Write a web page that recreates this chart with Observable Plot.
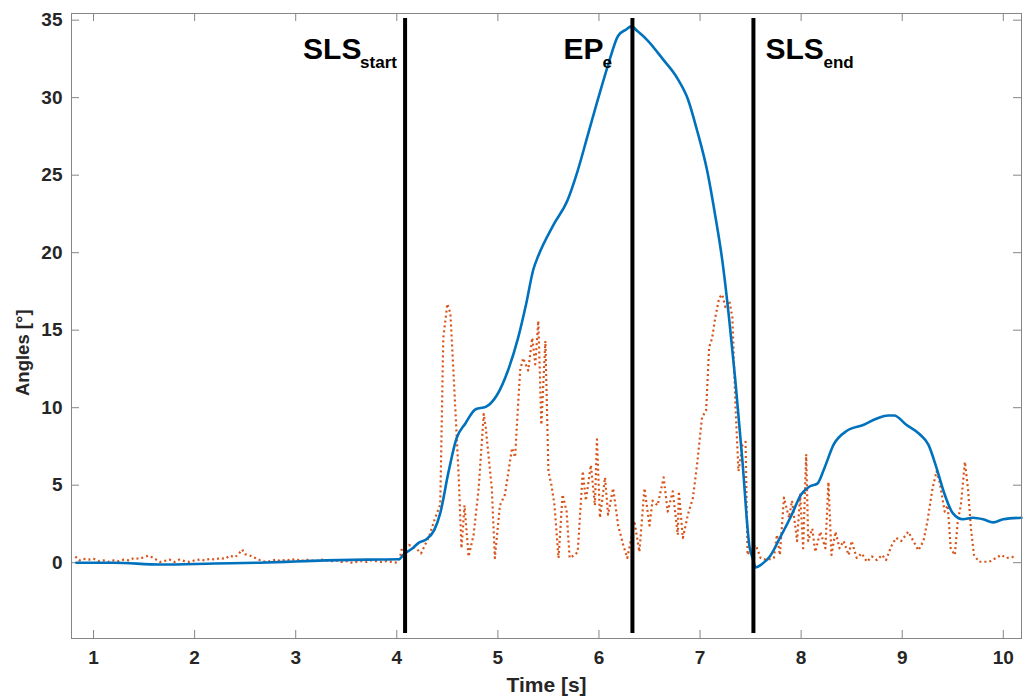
<!DOCTYPE html>
<html>
<head>
<meta charset="utf-8">
<script src="https://cdn.jsdelivr.net/npm/d3@7"></script>
<script src="https://cdn.jsdelivr.net/npm/@observablehq/plot@0.6"></script>
<style>
  html, body { margin: 0; padding: 0; background: #fff; }
  #chart { width: 1026px; height: 700px; }
</style>
</head>
<body>
<div id="chart"></div>
<script>
// ---- Data ----
const xTicks = [1, 2, 3, 4, 5, 6, 7, 8, 9, 10];
const yTicks = [0, 5, 10, 15, 20, 25, 30, 35];
const xLabel = "Time [s]";
const yLabel = "Angles [°]";

// Blue (solid) series
const blueT = [0.83, 1.2, 1.66, 2.2, 2.64, 3.0, 3.3, 3.7, 4.02, 4.07, 4.15, 4.22, 4.29, 4.37, 4.43, 4.51, 4.59, 4.68, 4.78, 4.88, 4.99, 5.10, 5.20, 5.28, 5.35, 5.40, 5.55, 5.69, 5.79, 5.89, 5.99, 6.09, 6.19, 6.27, 6.32, 6.38, 6.48, 6.63, 6.78, 6.88, 6.97, 7.07, 7.15, 7.22, 7.29, 7.35, 7.42, 7.49, 7.52, 7.55, 7.61, 7.69, 7.79, 7.90, 8.00, 8.08, 8.16, 8.23, 8.32, 8.45, 8.62, 8.75, 8.86, 8.92, 9.04, 9.17, 9.26, 9.34, 9.42, 9.50, 9.60, 9.70, 9.80, 9.90, 10.0, 10.18];
const blueV = [0.0, 0.0, -0.12, -0.05, 0.0, 0.08, 0.15, 0.2, 0.22, 0.55, 0.9, 1.3, 1.5, 2.1, 3.2, 5.8, 8.0, 9.0, 9.9, 10.05, 10.8, 12.4, 14.5, 16.7, 18.9, 19.8, 21.8, 23.4, 25.3, 27.6, 29.9, 32.1, 34.0, 34.4, 34.6, 34.3, 33.7, 32.5, 31.2, 29.9, 27.9, 25.3, 22.4, 19.5, 15.6, 11.7, 6.5, 1.0, 0.3, -0.3, -0.1, 0.4, 1.6, 3.0, 4.4, 4.9, 5.1, 6.1, 7.6, 8.5, 8.9, 9.3, 9.5, 9.5, 8.9, 8.3, 7.6, 6.1, 4.4, 3.2, 2.8, 2.9, 2.8, 2.6, 2.8, 2.9];

// Orange (dotted) series
const orangeT = [0.82, 0.86, 0.9, 0.95, 1.0, 1.05, 1.1, 1.15, 1.2, 1.25, 1.3, 1.35, 1.4, 1.45, 1.5, 1.54, 1.58, 1.62, 1.66, 1.7, 1.75, 1.8, 1.85, 1.9, 1.95, 2.0, 2.05, 2.1, 2.15, 2.2, 2.25, 2.3, 2.35, 2.4, 2.44, 2.47, 2.5, 2.55, 2.6, 2.65, 2.7, 2.75, 2.8, 2.85, 2.9, 2.95, 3.0, 3.05, 3.1, 3.15, 3.2, 3.25, 3.3, 3.35, 3.4, 3.45, 3.5, 3.55, 3.6, 3.65, 3.7, 3.75, 3.8, 3.85, 3.9, 3.95, 4.0, 4.03, 4.05,
  4.12, 4.19, 4.24, 4.32, 4.38, 4.43, 4.46, 4.50, 4.53, 4.56, 4.61, 4.64, 4.67, 4.71, 4.76, 4.81, 4.86, 4.88, 4.94, 4.97, 5.02, 5.07, 5.14, 5.17, 5.22, 5.25, 5.30, 5.34, 5.37, 5.40, 5.43, 5.47, 5.50, 5.53, 5.56, 5.60, 5.64, 5.68, 5.71, 5.76, 5.79, 5.84, 5.87, 5.92, 5.96, 5.98, 6.01, 6.06, 6.09, 6.14, 6.19, 6.24, 6.28, 6.32, 6.35, 6.40, 6.45, 6.50, 6.53, 6.58, 6.64, 6.68, 6.73, 6.78, 6.79, 6.83, 6.88, 6.93, 6.97, 7.02, 7.06, 7.09, 7.12, 7.15, 7.19, 7.22, 7.25, 7.29, 7.32, 7.35, 7.38, 7.42, 7.45, 7.47, 7.50, 7.55, 7.60, 7.66, 7.73, 7.76, 7.79, 7.83, 7.88, 7.91, 7.96, 7.99, 8.02, 8.05, 8.07, 8.11, 8.14, 8.19, 8.24, 8.27, 8.30, 8.34, 8.38, 8.42, 8.47, 8.50, 8.55, 8.60, 8.65, 8.70, 8.75, 8.80, 8.84, 8.89, 8.94, 8.99, 9.06, 9.11, 9.16, 9.21, 9.25, 9.30, 9.34, 9.37, 9.42, 9.45, 9.48, 9.52, 9.55, 9.58, 9.62, 9.65, 9.68, 9.71, 9.76, 9.86, 9.98, 10.03, 10.12];
const orangeV = [0.4, 0.15, 0.25, 0.2, 0.25, 0.1, 0.15, 0.05, 0.15, 0.1, 0.2, 0.15, 0.3, 0.25, 0.35, 0.45, 0.35, 0.2, 0.05, 0.1, 0.2, 0.05, 0.2, 0.1, 0.05, 0.15, 0.2, 0.15, 0.25, 0.2, 0.3, 0.25, 0.45, 0.35, 0.6, 0.85, 0.55, 0.45, 0.3, 0.15, 0.05, 0.1, 0.2, 0.1, 0.2, 0.15, 0.25, 0.1, 0.2, 0.15, 0.1, 0.2, 0.15, 0.1, 0.15, 0.05, 0.1, 0.0, 0.05, 0.1, 0.05, 0.15, 0.1, 0.05, 0.1, 0.05, 0.0, 0.3, 0.9,
  1.15, 0.93, 0.6, 1.7, 2.9, 3.75, 14.5, 16.7, 16.1, 12.4, 5.9, 0.93, 3.7, 0.4, 1.8, 4.8, 9.6, 8.7, 4.8, 0.3, 3.7, 4.4, 7.4, 6.8, 12.4, 13.2, 12.4, 14.5, 12.8, 15.6, 8.9, 14.3, 5.9, 5.0, 3.7, 0.3, 4.4, 3.3, 0.3, 0.5, 0.7, 5.9, 4.0, 6.3, 3.7, 7.95, 2.9, 5.5, 3.1, 4.8, 2.4, 1.15, 0.3, 1.6, 2.7, 0.7, 4.8, 2.4, 4.0, 3.7, 5.5, 3.3, 4.6, 1.8, 4.6, 1.6, 3.1, 4.2, 6.3, 9.4, 9.8, 13.9, 14.5, 15.8, 17.1, 17.3, 16.5, 16.9, 15.8, 10.2, 5.9, 7.6, 7.8, 0.5, 0.93, 1.15, 0.3, 0.17, 0.3, 1.8, 0.5, 4.2, 2.9, 4.0, 1.4, 4.4, 0.93, 7.0, 1.4, 2.2, 0.7, 2.0, 0.93, 5.2, 0.5, 2.0, 0.93, 1.4, 0.5, 1.4, 0.3, 0.6, 0.06, 0.4, 0.17, 0.5, 0.17, 1.04, 1.6, 1.4, 2.0, 1.4, 0.8, 1.4, 2.7, 4.8, 5.9, 5.2, 3.3, 3.7, 0.93, 0.5, 2.7, 3.7, 6.5, 4.8, 2.2, 0.5, 0.06, 0.06, 0.5, 0.3, 0.4];

// Event markers
const eventTimes = [4.082, 6.331, 7.528];
const eventNames = ["SLS", "EP", "SLS"];
const eventSubs = ["start", "e", "end"];

// ---- Build tables ----
const blue = blueT.map((t, i) => ({t, v: blueV[i]}));
const orange = orangeT.map((t, i) => ({t, v: orangeV[i]}));
const events = eventTimes.map((t, i) => ({t, name: eventNames[i], sub: eventSubs[i]}));

const W = 1026, H = 700;
const mT = 13, mB = 62, mL = 71, mR = 5;
const plotW = W - mL - mR, plotH = H - mT - mB;
const tickLen = 8;
const frameColor = "#868686";

// pixel offsets of annotation parts relative to their event line
const mainDx = [-102, -69, 12];
const subDx = [-45, -30, 70];

const annotationMarks = events.flatMap((e, i) => [
  Plot.text([e], {x: "t", text: "name", frameAnchor: "top", textAnchor: "start", lineAnchor: "bottom",
    dx: mainDx[i], dy: 45, fontSize: 30, fontWeight: "bold", fill: "black"}),
  Plot.text([e], {x: "t", text: "sub", frameAnchor: "top", textAnchor: "start", lineAnchor: "bottom",
    dx: subDx[i], dy: 54, fontSize: 17, fontWeight: "bold", fill: "black"})
]);

const chart = Plot.plot({
  width: W,
  height: H,
  marginTop: mT,
  marginBottom: mB,
  marginLeft: mL,
  marginRight: mR,
  style: {fontFamily: "'Liberation Sans', Arial, Helvetica, sans-serif", color: "#262626", background: "white"},
  x: {domain: [0.782, 10.18]},
  y: {domain: [-4.89, 35.43]},
  marks: [
    // inward ticks on all four sides
    Plot.ruleX(xTicks, {stroke: frameColor, insetTop: plotH - tickLen}),
    Plot.ruleX(xTicks, {stroke: frameColor, insetBottom: plotH - tickLen}),
    Plot.ruleY(yTicks, {stroke: frameColor, insetRight: plotW - tickLen}),
    Plot.ruleY(yTicks, {stroke: frameColor, insetLeft: plotW - tickLen}),
    Plot.axisX({ticks: xTicks, tickSize: 0, tickPadding: 12, fontSize: 19, fontWeight: "bold", label: null}),
    Plot.axisY({ticks: yTicks, tickSize: 0, tickPadding: 9, fontSize: 19, fontWeight: "bold", label: null}),
    // data
    Plot.line(orange, {x: "t", y: "v", stroke: "#D95319", strokeWidth: 2.2, strokeDasharray: "2,3", strokeLinecap: "butt"}),
    Plot.line(blue, {x: "t", y: "v", stroke: "#0072BD", strokeWidth: 2.6, curve: "monotone-x"}),
    // event lines
    Plot.ruleX(events, {x: "t", stroke: "black", strokeWidth: 4, insetTop: 5, insetBottom: 5}),
    ...annotationMarks,
    // axis titles
    Plot.text([xLabel], {frameAnchor: "bottom", dy: 53, text: d => d, fontSize: 21, fontWeight: "bold", fill: "#262626"}),
    Plot.text([yLabel], {frameAnchor: "left", dx: -48, dy: 70, rotate: -90, text: d => d, fontSize: 18.5, fontWeight: "bold", fill: "#262626"}),
    Plot.frame({stroke: frameColor, strokeWidth: 1})
  ]
});

document.getElementById("chart").appendChild(chart);
</script>
</body>
</html>
